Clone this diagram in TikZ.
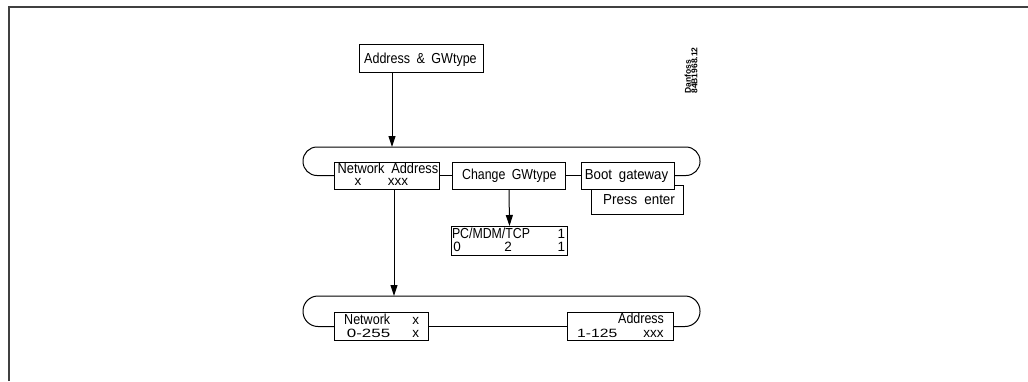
\documentclass[tikz,border=0pt]{standalone}
\usepackage{fontspec}
\usepackage{graphicx}
\setmainfont{Liberation Sans}
\usetikzlibrary{arrows.meta,calc}
\newcommand\fw[2]{\resizebox{#1}{\height}{#2}}
\newcommand\tw[5]{\node[txt] (#1) at (#2,#3) {\fw{#4pt}{#5}};}
\newcommand\tws[5]{\node[txt,font=\fontsize{12}{12}\selectfont] (#1) at (#2,#3) {\fw{#4pt}{#5}};}
\newcommand\tc[4]{\node[txtc] (#1) at (#2,#3) {#4};}
\newcommand\wg{\hspace{3.5pt}}
\begin{document}
\begin{tikzpicture}[x=1pt,y=-1pt,
  box/.style={draw,line width=1pt,fill=white,inner sep=0,anchor=north west},
  txt/.style={inner sep=0,anchor=base west,font=\fontsize{14.5}{14.5}\selectfont},
  txtc/.style={inner sep=0,anchor=base,font=\fontsize{13.5}{13.5}\selectfont},
  conn/.style={line width=1pt},
  arr/.style={line width=1pt,-{Triangle[length=11pt,width=7pt]}},
  frameline/.style={line width=2pt,draw=black!75}]
\useasboundingbox (0,0) rectangle (1028,381);
\draw[frameline] (9,381) -- (9,7) -- (1028,7);

% boxes
\node[box,minimum width=124pt,minimum height=28pt] (agw) at (359,44) {};
\node[box,minimum width=105pt,minimum height=27pt] (na) at (334,161.5) {};
\node[box,minimum width=113pt,minimum height=27pt] (cg) at (452,161.5) {};
\node[box,minimum width=92pt,minimum height=29pt] (pe) at (591,185) {};
\node[box,minimum width=93pt,minimum height=27pt] (bg) at (581,161.5) {};
\node[box,minimum width=116pt,minimum height=29pt] (pc) at (451,226) {};
\node[box,minimum width=94pt,minimum height=28pt] (nw) at (334,312) {};
\node[box,minimum width=106pt,minimum height=28pt] (ad) at (567,312) {};

% loops
\coordinate (ul) at (303,147);
\coordinate (ur) at (700,147);
\coordinate (ll) at (303,296);
\coordinate (lr) at (700,296);
\draw[conn,rounded corners=14pt] (na.west) -| (ul) -- (ur) |- (bg.east);
\draw[conn,rounded corners=15pt] (nw.west) -| (ll) -- (lr) |- (ad.east);
\draw[conn] (na.east) -- (cg.west);
\draw[conn] (cg.east) -- (bg.west);
\draw[conn] (nw.east) -- (ad.west);

% arrows
\coordinate (a1end) at (392,147);
\coordinate (a2end) at (394,296);
\draw[arr] ([xshift=33pt]agw.south west) -- (a1end);
\draw[arr] ([xshift=60pt]na.south west) -- (a2end);
\draw[arr] (cg.south) -- (pc.north);

% texts
\tw{a1}{364}{63.3}{112.5}{Address\wg{} \&\wg{} GWtype}

\tw{n1}{337.5}{173}{100.5}{Network\wg{} Address}
\tc{n3}{358}{185.3}{x}
\tc{n4}{398}{185.3}{xxx}

\tw{c1}{462}{179}{94.3}{Change\wg{} GWtype}

\tw{b1}{584.7}{179}{83.3}{Boot\wg{} gateway}

\tw{p1}{603}{204.7}{71.7}{Press\wg{} enter}

\tw{q1}{451.8}{238.7}{78}{PC/MDM/TCP}
\tc{q2}{561.3}{238.7}{1}
\tc{q3}{457.2}{251}{0}
\tc{q4}{508}{251}{2}
\tc{q5}{561.3}{251}{1}

\tw{m1}{344}{324.5}{46}{Network}
\tc{m2}{415.8}{324.5}{x}
\tws{m3}{346.7}{337.5}{43.3}{0-255}
\tc{m4}{415.8}{337.5}{x}

\tw{d1}{618}{323}{45.7}{Address}
\tws{d2}{577}{337.5}{40}{1-125}
\tc{d3}{653.5}{337.5}{xxx}

\node[inner sep=0,rotate=90,align=left,font=\fontsize{8.5}{6.5}\selectfont\bfseries] (dan) at (691,70.5) {Danfoss\\84B1968.12};
\end{tikzpicture}
\end{document}
